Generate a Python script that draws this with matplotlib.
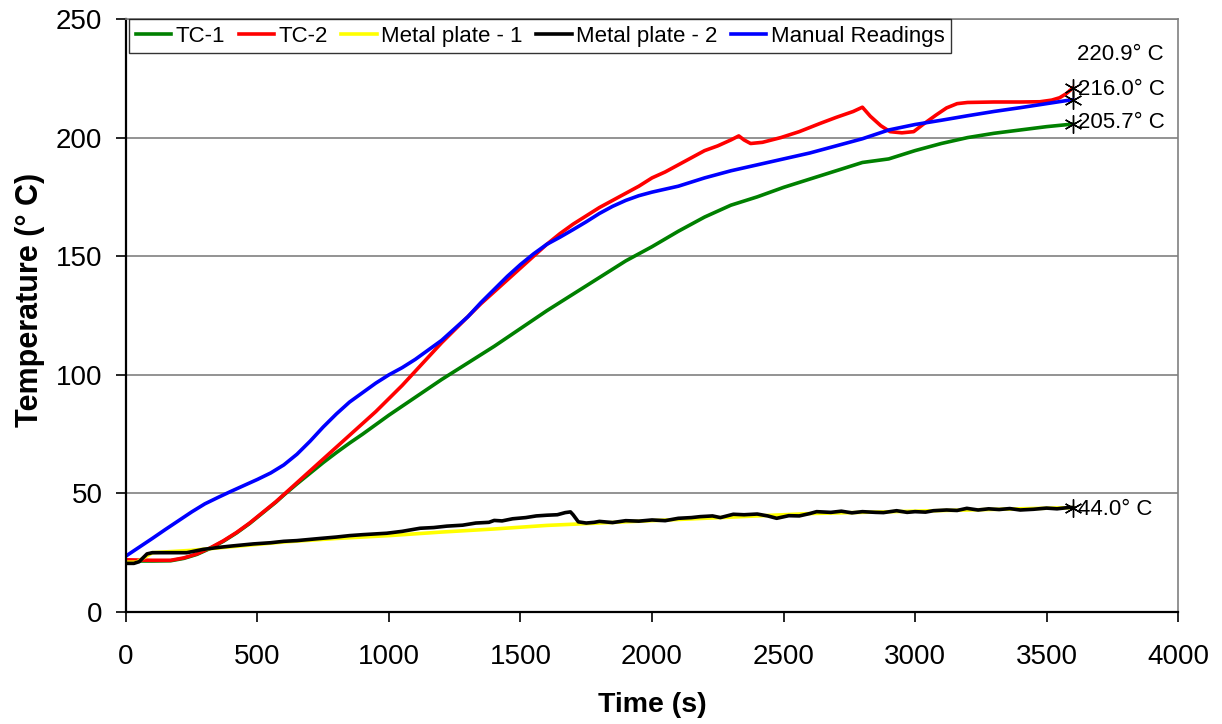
import matplotlib.pyplot as plt

plt.rcParams['font.family'] = ['Liberation Sans', 'DejaVu Sans']

# TC-1
tc1_t = [0, 100, 170, 220, 270, 320, 370, 420, 470, 520, 570, 600, 650, 700,
         750, 800, 850, 900, 950, 1000, 1100, 1200, 1300, 1400, 1500, 1600,
         1700, 1800, 1900, 2000, 2100, 2200, 2300, 2400, 2500, 2600, 2700, 2800,
         2900, 3000, 3100, 3200, 3300, 3400, 3500, 3600]
tc1_T = [21.5, 21.5, 21.6, 22.6, 24.3, 26.8, 29.8, 33.3, 37.3, 41.8, 46.3, 49.3,
         54, 58.5, 63, 67.2, 71.2, 75, 79, 83, 90.5, 98, 105, 112, 119.5, 127,
         134, 141, 148, 154, 160.5, 166.5, 171.5, 175, 179, 182.5, 186, 189.5,
         191, 194.5, 197.5, 200, 201.8, 203.2, 204.6, 205.7]

# TC-2
tc2_t = [0, 100, 170, 220, 270, 320, 370, 420, 470, 520, 570, 600, 650, 700,
         750, 800, 850, 900, 950, 1000, 1050, 1100, 1150, 1200, 1250, 1300, 1350,
         1400, 1450, 1500, 1550, 1600, 1650, 1700, 1750, 1800, 1850, 1900, 1950,
         2000, 2050, 2100, 2150, 2200, 2250, 2300, 2330, 2350, 2375, 2420, 2490,
         2560, 2640, 2700, 2765, 2800, 2830, 2870, 2905, 2950, 2995, 3030, 3080,
         3120, 3160, 3200, 3300, 3400, 3475, 3520, 3550, 3575, 3600]
tc2_T = [22, 21.8, 21.8, 22.8, 24.5, 27, 30, 33.5, 37.5, 42, 46.5, 49.5, 54.5,
         59.5, 64.5, 69.5, 74.5, 79.5, 84.5, 90, 95.5, 101.5, 107.5, 113.5, 119,
         124.5, 130, 135, 140, 145, 150, 155, 159.5, 163.5, 167, 170.5, 173.5,
         176.5, 179.5, 183, 185.5, 188.5, 191.5, 194.5, 196.5, 199, 200.7, 199,
         197.5, 198, 200, 202.5, 206, 208.5, 211, 212.8, 209, 205, 202.5, 202,
         202.5, 205.5, 209.5, 212.5, 214.3, 214.8, 215, 215, 215.1, 215.8, 216.8,
         218.5, 220.9]

# Metal plate - 1
mp1_t = [0, 40, 70, 100, 250, 400, 600, 800, 1000, 1200, 1400, 1600, 1800, 2000,
         2200, 2400, 2600, 2800, 3000, 3200, 3400, 3600]
mp1_T = [21, 21, 23, 25, 26, 27.5, 29.5, 31, 32.2, 33.7, 35, 36.5, 37.5, 38.5,
         39.5, 40.5, 41.5, 42, 42.5, 43, 43.5, 44]

# Metal plate - 2
mp2_t = [0, 30, 50, 80, 100, 150, 231, 294, 350, 400, 484, 550, 600, 650, 738,
         800, 850, 900, 991, 1050, 1118, 1170, 1220, 1280, 1330, 1380, 1400, 1430,
         1470, 1520, 1560, 1600, 1640, 1670, 1690, 1700, 1720, 1750, 1780, 1800,
         1850, 1900, 1950, 2000, 2050, 2100, 2150, 2183, 2230, 2260, 2309, 2350,
         2400, 2440, 2474, 2520, 2560, 2600, 2626, 2680, 2720, 2760, 2800, 2850,
         2880, 2930, 2970, 3000, 3040, 3070, 3120, 3160, 3197, 3240, 3280, 3320,
         3360, 3400, 3450, 3500, 3540, 3589, 3600]
mp2_T = [20.5, 20.5, 21.2, 24.5, 25, 25, 25, 26.4, 27.2, 27.8, 28.7, 29.2, 29.8,
         30.1, 31, 31.6, 32.2, 32.6, 33.2, 34, 35.3, 35.6, 36.2, 36.6, 37.5, 37.8,
         38.6, 38.4, 39.3, 39.8, 40.5, 40.8, 41, 41.9, 42.2, 41, 38, 37.5, 37.8,
         38.2, 37.7, 38.5, 38.3, 38.8, 38.5, 39.5, 39.8, 40.2, 40.5, 39.8, 41.2,
         41, 41.3, 40.5, 39.5, 40.6, 40.5, 41.5, 42.3, 42, 42.5, 41.8, 42.3, 42,
         41.9, 42.7, 42, 42.3, 42.1, 42.7, 43, 42.8, 43.7, 43, 43.5, 43.2, 43.6,
         43, 43.3, 43.8, 43.5, 44.1, 44]

# Manual Readings
man_t = [0, 50, 100, 150, 200, 250, 300, 350, 400, 450, 500, 550, 600, 650, 700,
         750, 800, 850, 900, 950, 1000, 1050, 1100, 1150, 1200, 1250, 1300, 1350,
         1400, 1450, 1500, 1550, 1600, 1650, 1700, 1750, 1800, 1850, 1900, 1950,
         2000, 2100, 2200, 2300, 2400, 2500, 2600, 2700, 2800, 2900, 3000, 3100,
         3200, 3300, 3400, 3500, 3600]
man_T = [23.6, 27.3, 31, 34.8, 38.5, 42.2, 45.6, 48.3, 50.9, 53.4, 55.9, 58.6,
         62, 66.5, 72, 78, 83.5, 88.5, 92.5, 96.5, 100, 103, 106.5, 110.5, 114.5,
         119.5, 124.5, 130.5, 136, 141.5, 146.5, 151, 155, 158, 161.2, 164.5, 168,
         171, 173.5, 175.5, 177, 179.5, 183, 186, 188.5, 191, 193.5, 196.5, 199.5,
         203.2, 205.5, 207.3, 209.2, 211, 212.6, 214.3, 216]

fig = plt.figure(figsize=(12.22, 7.24), dpi=100)
ax = fig.add_axes([0.1031, 0.1547, 0.8609, 0.8191])

lw = 2.6
ax.plot(tc1_t, tc1_T, color='#008000', lw=lw, label='TC-1')
ax.plot(tc2_t, tc2_T, color='#FF0000', lw=lw, label='TC-2')
ax.plot(mp1_t, mp1_T, color='#FFFF00', lw=lw, label='Metal plate - 1')
ax.plot(mp2_t, mp2_T, color='#000000', lw=lw, label='Metal plate - 2')
ax.plot(man_t, man_T, color='#0000FF', lw=lw, label='Manual Readings')

# end-point markers and labels
ends = [(tc2_t, tc2_T, (4, 33)), (man_t, man_T, (5, 10)),
        (tc1_t, tc1_T, (5, 2)), (mp2_t, mp2_T, (5, -2))]
for t, T, off in ends:
    ax.plot(t[-1], T[-1], marker=(6, 2, 0), color='black', ms=13, mew=1.0,
            zorder=5)
    ax.annotate(f'{T[-1]:.1f}° C', xy=(t[-1], T[-1]), xytext=off,
                textcoords='offset pixels', ha='left', va='center',
                fontsize=16)

ax.set_xlim(0, 4000)
ax.set_ylim(0, 250)
ax.set_xticks(range(0, 4001, 500))
ax.set_yticks(range(0, 251, 50))
ax.yaxis.grid(True, color='#808080', lw=1.2)
ax.set_axisbelow(True)
ax.tick_params(labelsize=20, direction='out', length=7, width=1.2)
ax.tick_params(axis='x', pad=16)
ax.tick_params(axis='y', pad=10)

for s in ['left', 'bottom']:
    ax.spines[s].set_color('black')
    ax.spines[s].set_linewidth(1.6)
for s in ['top', 'right']:
    ax.spines[s].set_color('#808080')
    ax.spines[s].set_linewidth(1.2)

ax.set_xlabel('Time (s)', fontsize=20.5, fontweight='bold')
ax.set_ylabel('Temperature (° C)', fontsize=22, fontweight='bold')
ax.xaxis.set_label_coords(0.5, -0.135)
ax.yaxis.set_label_coords(-0.077, 0.526)

leg = ax.legend(loc='upper left', bbox_to_anchor=(0.003, 1.0), ncol=5,
                fontsize=16, frameon=True, fancybox=False, borderaxespad=0,
                handlelength=1.6, handletextpad=0.2, columnspacing=0.6,
                borderpad=0.3)
leg.get_frame().set_edgecolor('black')
leg.get_frame().set_linewidth(1.0)

fig.savefig('out.png', dpi=100)
